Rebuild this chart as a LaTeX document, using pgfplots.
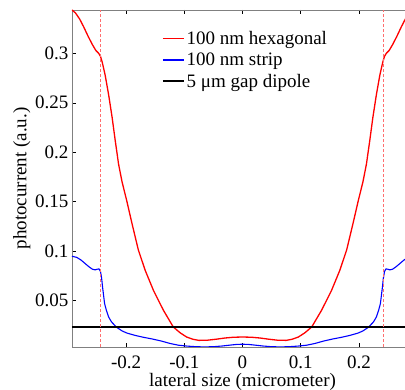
\documentclass[border=0pt]{standalone}
\usepackage{pgfplots}
\pgfplotsset{compat=1.18}
\usepackage{fontspec}
\setmainfont{Liberation Serif}
\definecolor{axgray}{RGB}{128,128,128}
\definecolor{dashred}{RGB}{255,110,110}
\begin{document}
\begin{tikzpicture}
\begin{axis}[
  name=ax,
  scale only axis,
  width=341pt, height=337pt,
  xmin=-0.293, xmax=0.293,
  ymin=0.0027, ymax=0.344,
  axis line style={axgray, line width=0.8pt},
  tick style={black, line width=0.6pt},
  major tick length=4pt,
  tick align=inside,
  xtick={-0.2,-0.1,0,0.1,0.2},
  xticklabels={-0.2,-0.1,0,0.1,0.2},
  ytick={0.05,0.1,0.15,0.2,0.25,0.3},
  yticklabels={0.05,0.1,0.15,0.2,0.25,0.3},
  ytick pos=left,
  xtick pos=both,
  /pgf/number format/assume math mode=true,
  ticklabel style={font=\fontsize{19}{22}\selectfont},
  xticklabel style={yshift=-5pt},
  label style={font=\fontsize{19}{22}\selectfont},
  xlabel={lateral size (micrometer)},
  ylabel={photocurrent (a.u.)},
  xlabel style={yshift=2pt},
  ylabel style={yshift=-2pt},
  legend style={draw=none, fill=none, at={(axis description cs:0.255,0.95)}, anchor=north west,
    font=\fontsize{19}{22}\selectfont, row sep=3pt},
  legend cell align=left,
  legend image code/.code={\draw[#1] (0pt,0pt) -- (21pt,0pt);},
]
\addlegendimage{red, line width=1.5pt}
\addlegendentry{100 nm hexagonal}
\addlegendimage{blue, line width=1.5pt}
\addlegendentry{100 nm strip}
\addlegendimage{black, line width=1.5pt}
\addlegendentry{5 μm gap dipole}
\addplot[red, line width=1.3pt, line join=round, forget plot] coordinates {
(-0.293,0.344) (-0.287,0.341) (-0.280,0.335) (-0.273,0.327) (-0.265,0.317) (-0.258,0.309)
(-0.252,0.303) (-0.247,0.300) (-0.244,0.297) (-0.241,0.291) (-0.236,0.278) (-0.230,0.258)
(-0.224,0.235) (-0.219,0.213) (-0.213,0.188) (-0.207,0.170) (-0.199,0.151) (-0.190,0.128)
(-0.179,0.101) (-0.167,0.080) (-0.153,0.060) (-0.136,0.040) (-0.119,0.023) (-0.107,0.017)
(-0.096,0.0128) (-0.085,0.0105) (-0.075,0.0094) (-0.060,0.0096) (-0.045,0.0106) (-0.030,0.0118)
(-0.015,0.0126) (0,0.0128)
(0.015,0.0126) (0.030,0.0118) (0.045,0.0106) (0.060,0.0096) (0.075,0.0094) (0.085,0.0105)
(0.096,0.0128) (0.107,0.017) (0.119,0.023) (0.136,0.040) (0.153,0.060) (0.167,0.080)
(0.179,0.101) (0.190,0.128) (0.199,0.151) (0.207,0.170) (0.213,0.188) (0.219,0.213)
(0.224,0.235) (0.230,0.258) (0.236,0.278) (0.241,0.291) (0.244,0.297) (0.247,0.300)
(0.252,0.303) (0.258,0.309) (0.265,0.317) (0.273,0.327) (0.280,0.335) (0.287,0.341) (0.293,0.344)
};
\addplot[blue, line width=1.1pt, line join=round, forget plot] coordinates {
(-0.293,0.0946) (-0.285,0.0935) (-0.278,0.091) (-0.271,0.0875) (-0.264,0.084) (-0.258,0.0815)
(-0.253,0.0808) (-0.2495,0.0815) (-0.2465,0.0818) (-0.244,0.079) (-0.242,0.072) (-0.2405,0.0635)
(-0.237,0.0467) (-0.234,0.040) (-0.230,0.033) (-0.225,0.028) (-0.216,0.0225) (-0.207,0.019)
(-0.1986,0.0168) (-0.185,0.0145) (-0.170,0.0125) (-0.155,0.0108) (-0.140,0.0088) (-0.124,0.0062)
(-0.110,0.0045) (-0.095,0.0036) (-0.080,0.003) (-0.065,0.0028) (-0.050,0.003) (-0.035,0.0037)
(-0.020,0.0047) (-0.010,0.0053) (0,0.0055)
(0.010,0.0053) (0.020,0.0047) (0.035,0.0037) (0.050,0.003) (0.065,0.0028) (0.080,0.003)
(0.095,0.0036) (0.110,0.0045) (0.124,0.0062) (0.140,0.0088) (0.155,0.0108) (0.170,0.0125)
(0.185,0.0145) (0.1986,0.0168) (0.207,0.019) (0.216,0.0225) (0.225,0.028) (0.230,0.033)
(0.234,0.040) (0.237,0.0467) (0.2405,0.0635) (0.242,0.072) (0.244,0.079) (0.2465,0.0818)
(0.2495,0.0815) (0.253,0.0808) (0.258,0.0815) (0.264,0.084) (0.271,0.0875) (0.278,0.091)
(0.285,0.0935) (0.293,0.0946)
};
\addplot[black, line width=1.1pt, forget plot] coordinates {(-0.293,0.023) (0.293,0.023)};
\addplot[dashred, line width=0.8pt, dash pattern=on 3pt off 2pt, forget plot] coordinates {(-0.2435,0.0027) (-0.2435,0.344)};
\addplot[dashred, line width=0.8pt, dash pattern=on 3pt off 2pt, forget plot] coordinates {(0.2425,0.0027) (0.2425,0.344)};
\end{axis}
\pgfresetboundingbox
\path[use as bounding box] ([shift={(-72pt,-43pt)}]ax.south west) rectangle ([shift={(333pt,347pt)}]ax.south west);
\end{tikzpicture}
\end{document}
